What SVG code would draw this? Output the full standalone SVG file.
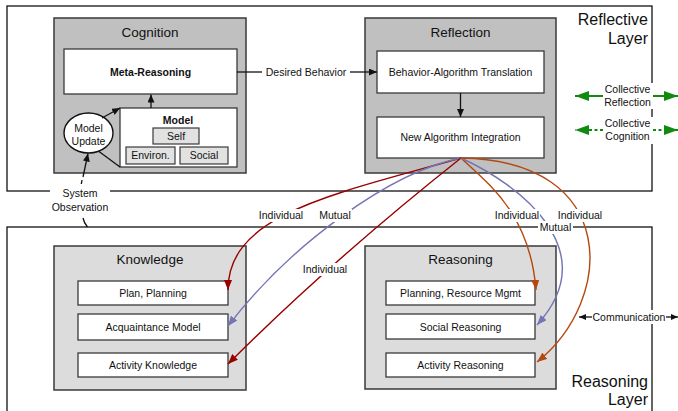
<svg xmlns="http://www.w3.org/2000/svg" width="678" height="411" viewBox="0 0 678 411">
<style>
text{font-family:"Liberation Sans",Arial,sans-serif;fill:#111;}
.layer{fill:none;stroke:#111;stroke-width:1.3;}
.big{fill:#c0c0c0;stroke:#3a3a3a;stroke-width:1.5;}
.big2{fill:#dcdcdc;stroke:#3a3a3a;stroke-width:1.5;}
.box{fill:#fff;stroke:#3a3a3a;stroke-width:1.3;}
.sbox{fill:#e2e2e2;stroke:#3a3a3a;stroke-width:1.2;}
.t14{font-size:13.5px;text-anchor:middle;}
.t16{font-size:16px;text-anchor:end;}
.t{font-size:10.5px;text-anchor:middle;}
.b{font-weight:bold;}
.bg{fill:#fff;stroke:none;}
.blk{fill:none;stroke:#111;stroke-width:1.3;}
.red{fill:none;stroke:#990000;stroke-width:1.4;}
.blu{fill:none;stroke:#7474b6;stroke-width:1.4;}
.org{fill:none;stroke:#b5470f;stroke-width:1.4;}
.grn{fill:none;stroke:#118a11;stroke-width:2;}
</style>
<defs>
<marker id="aK" viewBox="0 0 8 7" refX="8" refY="3.5" markerWidth="8" markerHeight="7" markerUnits="userSpaceOnUse" orient="auto"><path d="M0,0 L8,3.5 L0,7 z" fill="#111"/></marker>
<marker id="aR" viewBox="0 0 10 8" refX="10" refY="4" markerWidth="10" markerHeight="8" markerUnits="userSpaceOnUse" orient="auto"><path d="M0,0 L10,4 L0,8 z" fill="#990000"/></marker>
<marker id="aB" viewBox="0 0 10 8" refX="10" refY="4" markerWidth="10" markerHeight="8" markerUnits="userSpaceOnUse" orient="auto"><path d="M0,0 L10,4 L0,8 z" fill="#7474b6"/></marker>
<marker id="aO" viewBox="0 0 10 8" refX="10" refY="4" markerWidth="10" markerHeight="8" markerUnits="userSpaceOnUse" orient="auto"><path d="M0,0 L10,4 L0,8 z" fill="#b5470f"/></marker>
<marker id="aG" viewBox="0 0 14 10" refX="14" refY="5" markerWidth="14" markerHeight="10" markerUnits="userSpaceOnUse" orient="auto"><path d="M0,0 L14,5 L0,10 z" fill="#118a11"/></marker>
<marker id="aS" viewBox="0 0 7 6" refX="7" refY="3" markerWidth="7" markerHeight="6" markerUnits="userSpaceOnUse" orient="auto"><path d="M0,0 L7,3 L0,6 z" fill="#111"/></marker>
</defs>
<rect width="678" height="411" fill="#fff"/>

<g id="reflective-layer">
<rect class="layer" x="7" y="6" width="645" height="185"/>
<text class="t16" x="648" y="25">Reflective</text>
<text class="t16" x="648" y="43.5">Layer</text>
</g>
<g id="reasoning-layer">
<rect class="layer" x="7" y="227" width="645" height="200"/>
<text class="t16" x="648" y="387">Reasoning</text>
<text class="t16" x="648" y="405">Layer</text>
</g>

<g id="cognition">
<rect class="big" x="54" y="18" width="192" height="155"/>
<text class="t14" x="150" y="37">Cognition</text>
</g>
<g id="meta-reasoning">
<rect class="box" x="64" y="49" width="173" height="45"/>
<text class="t b" x="150.5" y="76">Meta-Reasoning</text>
</g>
<g id="model">
<rect class="box" x="120" y="108" width="117" height="59"/>
<text class="t b" x="178" y="123.5">Model</text>
<rect class="sbox" x="153" y="128" width="46" height="16"/>
<text class="t" x="176" y="139.8">Self</text>
<rect class="sbox" x="126" y="147" width="49" height="17"/>
<text class="t" x="150.5" y="159.3">Environ.</text>
<rect class="sbox" x="180" y="147" width="48" height="17"/>
<text class="t" x="204" y="159.3">Social</text>
</g>
<g id="model-update">
<ellipse cx="88.5" cy="133" rx="24.5" ry="20" fill="#fff" stroke="#111" stroke-width="1.4"/>
<text class="t" x="88.5" y="131.5">Model</text>
<text class="t" x="88.5" y="144.5">Update</text>
</g>

<g id="reflection">
<rect class="big" x="365" y="18" width="191" height="155"/>
<text class="t14" x="460.5" y="37">Reflection</text>
</g>
<g id="behavior-algorithm-translation">
<rect class="box" x="377" y="51" width="167" height="42"/>
<text class="t" x="460.5" y="76">Behavior-Algorithm Translation</text>
</g>
<g id="new-algorithm-integration">
<rect class="box" x="377" y="117" width="167" height="41"/>
<text class="t" x="460.5" y="141">New Algorithm Integration</text>
</g>

<g id="knowledge">
<rect class="big2" x="54" y="246" width="192" height="144"/>
<text class="t14" x="150" y="264">Knowledge</text>
</g>
<g id="plan-planning">
<rect class="box" x="78" y="281" width="150" height="24"/>
<text class="t" x="153" y="296.8">Plan, Planning</text>
</g>
<g id="acquaintance-model">
<rect class="box" x="78" y="314" width="150" height="26"/>
<text class="t" x="153" y="330.5">Acquaintance Model</text>
</g>
<g id="activity-knowledge">
<rect class="box" x="78" y="353" width="150" height="24"/>
<text class="t" x="153" y="368.5">Activity Knowledge</text>
</g>

<g id="reasoning">
<rect class="big2" x="365" y="246" width="191" height="143"/>
<text class="t14" x="460.5" y="264">Reasoning</text>
</g>
<g id="planning-resource-mgmt">
<rect class="box" x="386" y="281" width="149" height="24"/>
<text class="t" x="460.5" y="296.8">Planning, Resource Mgmt</text>
</g>
<g id="social-reasoning">
<rect class="box" x="386" y="314" width="149" height="25"/>
<text class="t" x="460.5" y="330.5">Social Reasoning</text>
</g>
<g id="activity-reasoning">
<rect class="box" x="386" y="353" width="149" height="24"/>
<text class="t" x="460.5" y="368.5">Activity Reasoning</text>
</g>

<g id="connectors">
<line class="blk" x1="102" y1="118" x2="120" y2="108" marker-end="url(#aK)"/>
<line class="blk" x1="99" y1="151.5" x2="120" y2="167"/>
<line class="blk" x1="151" y1="108" x2="151" y2="94.5" marker-end="url(#aK)"/>
<line class="blk" x1="83" y1="177" x2="88" y2="153.5" marker-end="url(#aK)"/>
<line class="blk" x1="82" y1="180" x2="81.3" y2="184"/>
<path class="blk" d="M83,218 Q84,223 87.5,227"/>
<line class="blk" x1="237" y1="72" x2="262" y2="72"/>
<line class="blk" x1="350" y1="72" x2="377" y2="72" marker-end="url(#aK)"/>
<text class="t" x="306" y="76">Desired Behavior</text>
<line class="blk" x1="460.5" y1="93" x2="460.5" y2="117" marker-end="url(#aK)"/>

<path class="red" d="M461,158 C330,195 228,215 228,290" marker-end="url(#aR)"/>
<path class="blu" d="M461,158 C390,172 290,245 228,326" marker-end="url(#aB)"/>
<path class="red" d="M461,158 Q330,262 228,364" marker-end="url(#aR)"/>
<path class="org" d="M461,158 C490,185 530,215 536,290" marker-end="url(#aO)"/>
<path class="blu" d="M461,158 C520,185 605,250 537,325" marker-end="url(#aB)"/>
<path class="org" d="M461,158 C620,160 615,300 537,362" marker-end="url(#aO)"/>

<rect class="bg" x="258" y="209" width="46" height="13"/>
<text class="t" x="281" y="218.5">Individual</text>
<rect class="bg" x="318" y="209" width="34" height="13"/>
<text class="t" x="335" y="218.5">Mutual</text>
<rect class="bg" x="302" y="263" width="46" height="13"/>
<text class="t" x="325" y="272.7">Individual</text>
<rect class="bg" x="494" y="209" width="46" height="13"/>
<text class="t" x="517" y="219">Individual</text>
<rect class="bg" x="557" y="209" width="46" height="13"/>
<text class="t" x="580" y="219">Individual</text>
<rect class="bg" x="538" y="221" width="35" height="13"/>
<text class="t" x="555.5" y="230.7">Mutual</text>

<rect class="bg" x="50" y="186" width="60" height="28"/>
<text class="t" x="80" y="197.3">System</text>
<text class="t" x="80" y="210.7">Observation</text>

<line class="grn" x1="603" y1="96" x2="575" y2="96" marker-end="url(#aG)"/>
<line class="grn" x1="653" y1="96" x2="678" y2="96" marker-end="url(#aG)"/>
<line class="grn" x1="603" y1="130" x2="575" y2="130" stroke-dasharray="3,2.5" marker-end="url(#aG)"/>
<line class="grn" x1="653" y1="130" x2="678" y2="130" stroke-dasharray="3,2.5" marker-end="url(#aG)"/>
<rect class="bg" x="603" y="83" width="50" height="26"/>
<text class="t" x="627.5" y="93.3">Collective</text>
<text class="t" x="627.5" y="106">Reflection</text>
<rect class="bg" x="603" y="117" width="50" height="27"/>
<text class="t" x="627.5" y="126.7">Collective</text>
<text class="t" x="627.5" y="139.5">Cognition</text>

<line class="blk" x1="592" y1="317" x2="579" y2="317" marker-end="url(#aS)"/>
<line class="blk" x1="665" y1="317" x2="678" y2="317" marker-end="url(#aS)"/>
<rect class="bg" x="592" y="310" width="74" height="14"/>
<text class="t" x="629" y="320.7">Communication</text>
</g>
</svg>
